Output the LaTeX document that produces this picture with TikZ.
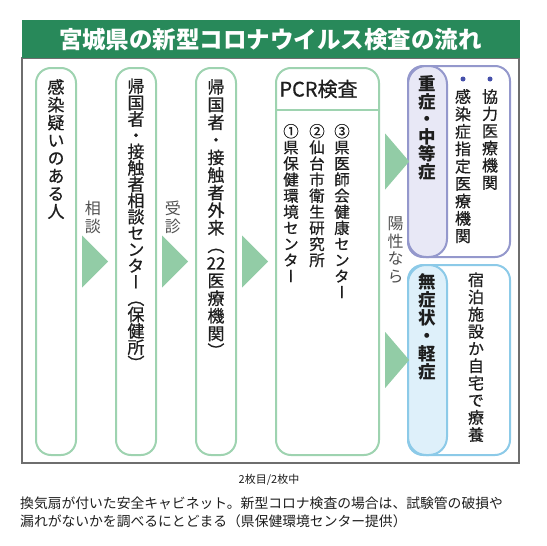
\documentclass[tikz,border=0pt]{standalone}
\usepackage{fontspec}
\usepackage{xcolor}
\usetikzlibrary{shapes.geometric, positioning}

\setmainfont{Noto Sans CJK JP}
\newfontfamily\tatefont[RawFeature=+vert]{Noto Sans CJK JP}
\newfontfamily\tatemid[RawFeature=+vert, FakeBold=0.6]{Noto Sans CJK JP}
\newfontfamily\midfont[FakeBold=0.6]{Noto Sans CJK JP}

\definecolor{titlegreen}{RGB}{40,137,90}
\definecolor{boxgreen}{RGB}{158,211,176}
\definecolor{arrowgreen}{RGB}{146,204,166}
\definecolor{lilac}{RGB}{148,152,204}
\definecolor{lavender}{RGB}{232,232,246}
\definecolor{skyline}{RGB}{140,202,232}
\definecolor{skyfill}{RGB}{222,240,250}
\definecolor{dotblue}{RGB}{70,80,170}
\definecolor{framegray}{RGB}{110,110,110}
\definecolor{ink}{RGB}{30,30,30}
\definecolor{labelgray}{RGB}{80,80,80}

\newcommand\tatecell[2]{\vbox to #1{\vss\hbox to 1em{\hss\vrule height .88em depth .12em width 0pt\relax#2\hss}\vss}}
\ExplSyntaxOn
\NewDocumentCommand\tate{O{1.04em}m}{\vbox{\offinterlineskip\tl_map_inline:nn{#2}{\tatecell{#1}{##1}}}}
\ExplSyntaxOff

\begin{document}
\begin{tikzpicture}[
    x=1pt, y=-1pt,
    node distance=38pt,
    base/.style={draw=boxgreen, line width=2pt, rounded corners=15pt, fill=white, minimum height=387pt, inner sep=0pt},
    lane/.style={base, minimum width=40pt},
    lab/.style={base, minimum width=103pt},
    group/.style={draw, line width=2pt, rounded corners=15pt, fill=white, minimum width=102pt, inner sep=0pt},
    pill/.style={draw, line width=2pt, rounded corners=18pt, minimum width=39pt, inner sep=0pt},
    chevron/.style={isosceles triangle, isosceles triangle stretches, fill=arrowgreen, inner sep=0pt, minimum width=52pt, minimum height=26pt},
    tatetext/.style={inner sep=0pt, text=ink, font=\tatemid\fontsize{17}{17}\selectfont},
    note/.style={inner sep=0pt, text=labelgray, font=\tatefont\fontsize{16}{16}\selectfont},
    dot/.style={circle, fill=dotblue, minimum size=5pt, inner sep=0pt}
]

    \useasboundingbox (0,0) rectangle (547,546);

    \node [draw=framegray, line width=1.2pt, minimum width=497pt, minimum height=405pt] (frame) at (270.5,260.5) {};
    \node [fill=titlegreen, text=white, minimum width=498pt, minimum height=38pt, inner sep=0pt,
        font=\bfseries\fontsize{23.5}{24}\selectfont] (title) [above=-1.2pt of frame] {宮城県の新型コロナウイルス検査の流れ};

    \node [lane] (person) at (56,261.5) {};
    \node [lane] (center) [right=of person] {};
    \node [lane] (clinic) [right=of center] {};
    \node [lab] (pcr) [right=of clinic] {};

    \node [group, draw=lilac] (severe) at (459,161.5) [minimum height=191pt] {};
    \node [pill, draw=lilac, fill=lavender, minimum height=191pt] (severePill) at (severe.west) [anchor=west] {};
    \node [group, draw=skyline] (mild) at (459,360) [minimum height=190pt] {};
    \node [pill, draw=skyline, fill=skyfill, minimum height=190pt] (mildPill) at (mild.west) [anchor=west] {};

    \node [chevron] (toCenter) [right=5pt of person] {};
    \node [chevron] (toClinic) [right=5pt of center] {};
    \node [chevron] (toPcr) [right=5pt of clinic] {};
    \node [chevron, minimum width=56pt, minimum height=24pt] (toSevere) at (pcr.east |- severe) [anchor=west, xshift=5pt] {};
    \node [chevron, minimum width=56pt, minimum height=24pt] (toMild) at (pcr.east |- mild) [anchor=west, xshift=5pt] {};

    \node [note] (consult) [above=11pt of toCenter] {\tate[17.5pt]{相談}};
    \node [note] (visit) [above=11pt of toClinic] {\tate[17.5pt]{受診}};
    \node [note] (positive) [below=37pt of toSevere] {\tate[17.5pt]{陽性なら}};

    \node [tatetext] (personText) [below=11pt of person.north] {\tate[17.75pt]{感染疑いのある人}};
    \node [tatetext] (centerText) [below=11pt of center.north] {\tate[16.3pt]{帰国者・接触者相談センター（保健所）}};
    \node [tatetext] (clinicText) [below=11pt of clinic.north] {\tate[17.6pt]{帰国者・接触者外来（{22}医療機関）}};

    \node [inner sep=0pt, text=ink, font=\midfont\fontsize{20}{20}\selectfont] (pcrTitle) at (318.5,89) {PCR検査};
    \coordinate (pcrRule) at (318.5,110);
    \draw [draw=boxgreen, line width=2pt] (pcrRule -| pcr.west) -- (pcrRule -| pcr.east);
    \node [tatetext, font=\tatemid\fontsize{15.5}{16}\selectfont, anchor=north] (labA) at (291,123) {\tate[16.1pt]{①県保健環境センター}};
    \node [tatetext, font=\tatemid\fontsize{15.5}{16}\selectfont, anchor=north] (labB) at (317,123) {\tate[16.1pt]{②仙台市衛生研究所}};
    \node [tatetext, font=\tatemid\fontsize{15.5}{16}\selectfont, anchor=north] (labC) at (342,123) {\tate[16.1pt]{③県医師会健康センター}};

    \node [tatetext, font=\tatefont\bfseries\fontsize{17.5}{18}\selectfont] (severeText) [below=10pt of severePill.north] {\tate[17.5pt]{重症・中等症}};
    \node [dot] (dotA) at (463,79) {};
    \node [dot] (dotB) at (490,79) {};
    \node [tatetext, font=\tatemid\fontsize{16}{16}\selectfont] (designated) [below=6pt of dotA] {\tate[17.4pt]{感染症指定医療機関}};
    \node [tatetext, font=\tatemid\fontsize{16}{16}\selectfont] (coop) [below=6pt of dotB] {\tate[17.2pt]{協力医療機関}};

    \node [tatetext, font=\tatefont\bfseries\fontsize{17.5}{18}\selectfont] (mildText) [below=9pt of mildPill.north] {\tate[18pt]{無症状・軽症}};
    \node [tatetext, font=\tatemid\fontsize{16}{16}\selectfont, anchor=north] (home) at (476,271) {\tate[17.2pt]{宿泊施設か自宅で療養}};

    \node [inner sep=0pt, text=ink, font=\fontsize{11}{12}\selectfont] (page) at (269,479.5) {2枚目/2枚中};
    \node [inner sep=0pt, text=ink, align=left, anchor=north west, font=\fontsize{13.8}{18}\selectfont] (caption) at (20,497)
        {換気扇が付いた安全キャビネット。新型コロナ検査の場合は、試験管の破損や\\
        漏れがないかを調べるにとどまる（県保健環境センター提供）};

\end{tikzpicture}
\end{document}
